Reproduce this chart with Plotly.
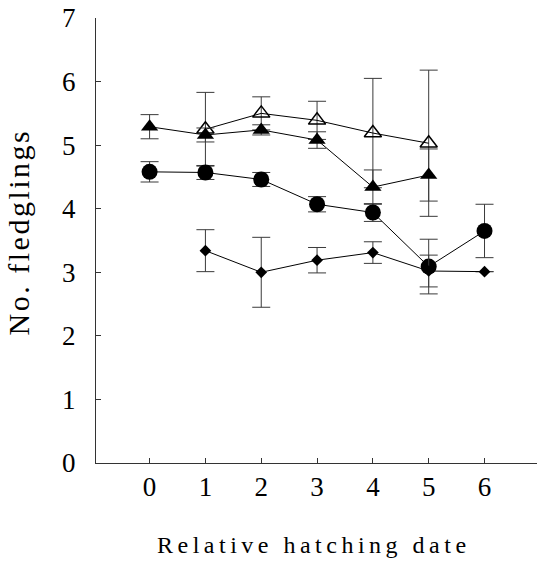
import plotly.graph_objects as go

# relative hatching date
days = [0, 1, 2, 3, 4, 5, 6]

# open triangles
open_tri_x = [1, 2, 3, 4, 5]
open_tri_y = [5.25, 5.50, 5.39, 5.19, 5.03]
open_tri_err = [0.58, 0.26, 0.30, 0.86, 1.15]

# filled triangles
fill_tri_x = [0, 1, 2, 3, 4, 5]
fill_tri_y = [5.29, 5.16, 5.24, 5.08, 4.34, 4.53]
fill_tri_err = [0.19, 0.11, 0.08, 0.13, 0.27, 0.41]

# filled circles
circle_x = [0, 1, 2, 3, 4, 5, 6]
circle_y = [4.58, 4.57, 4.46, 4.07, 3.94, 3.09, 3.65]
circle_err = [0.16, 0.11, 0.11, 0.12, 0.14, 0.43, 0.42]

# diamonds
diamond_x = [1, 2, 3, 4, 5, 6]
diamond_y = [3.34, 3.00, 3.19, 3.31, 3.02, 3.01]
diamond_err = [0.33, 0.55, 0.20, 0.17, 0.25, 0.0]

FONT = "Liberation Serif, serif"
ERR = dict(type="data", thickness=1, width=9, color="#3a3a3a")

series = [
    (open_tri_x, open_tri_y, open_tri_err, dict(symbol="triangle-up-open", size=15, color="black", line=dict(width=1.5, color="black"))),
    (fill_tri_x, fill_tri_y, fill_tri_err, dict(symbol="triangle-up", size=15, color="black")),
    (circle_x, circle_y, circle_err, dict(symbol="circle", size=16, color="black")),
    (diamond_x, diamond_y, diamond_err, dict(symbol="diamond", size=9, color="black")),
]

fig = go.Figure()
for xs, ys, errs, marker in series:
    fig.add_trace(
        go.Scatter(
            x=xs, y=ys, mode="lines+markers",
            line=dict(color="black", width=1),
            marker=marker,
            error_y=dict(array=errs, **ERR),
            showlegend=False,
        )
    )

axis_style = dict(
    ticks="inside", ticklen=5, tickcolor="#333",
    showline=True, linecolor="#333", linewidth=1,
    showgrid=False, zeroline=False, automargin=False,
    tickfont=dict(size=27, family=FONT, color="black"),
)

fig.update_layout(
    width=537, height=563,
    margin=dict(l=96, r=0, t=18, b=100),
    paper_bgcolor="white", plot_bgcolor="white",
    font=dict(family=FONT, color="black"),
    xaxis=dict(range=[-0.96, 6.94], tickvals=days, ticklabelstandoff=0, **axis_style),
    yaxis=dict(range=[0, 7], dtick=1, ticklabelstandoff=14, **axis_style),
    annotations=[
        dict(text='<span style="letter-spacing:4.5px">Relative hatching date</span>',
             xref="paper", yref="paper", x=0.495, y=-0.185, yanchor="middle",
             showarrow=False, font=dict(size=24, family=FONT, color="black")),
        dict(text='<span style="letter-spacing:2.5px">No. fledglings</span>',
             xref="paper", yref="paper", x=-0.175, y=0.52, textangle=-90,
             xanchor="center", yanchor="middle",
             showarrow=False, font=dict(size=30, family=FONT, color="black")),
    ],
)

# drop the browser's default 8px body margin so the figure sits at the page corner
fig.write_html(
    "out.html",
    config={"displayModeBar": False},
    post_script="document.body.style.margin='0';",
)
